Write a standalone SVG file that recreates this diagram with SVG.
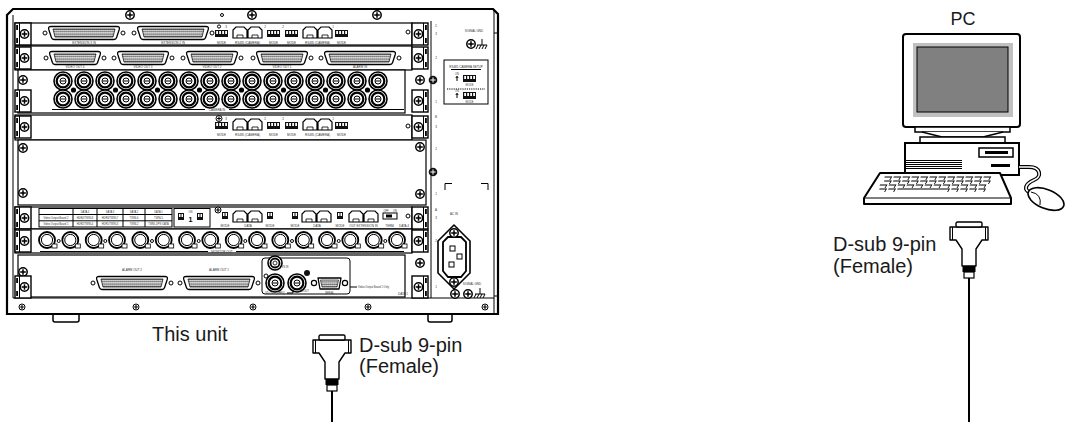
<svg xmlns="http://www.w3.org/2000/svg" width="1065" height="422" viewBox="0 0 1065 422">
<style>
.k{fill:none;stroke:#000;stroke-width:1}
.w{fill:#fff;stroke:#000;stroke-width:1.2}
.tt{font-family:"Liberation Sans",Arial,sans-serif;font-size:3px;fill:#333;text-anchor:middle}
.ts{font-family:"Liberation Sans",Arial,sans-serif;font-size:2.6px;fill:#333;text-anchor:middle}
.lb{font-family:"Liberation Sans",Arial,Helvetica,sans-serif;font-size:20px;fill:#1a1a1a}
.cable{fill:none;stroke:#000;stroke-width:2}
</style>
<defs>
<pattern id="pins" width="2" height="2.4" patternUnits="userSpaceOnUse"><rect width="2" height="2.4" fill="#fff"/><rect x="0.3" y="0.4" width="1.3" height="1.4" fill="#222"/></pattern>
<g id="sc"><circle r="3" fill="#fff" stroke="#000" stroke-width="1"/><path d="M-1.9,0H1.9M0,-1.9V1.9" stroke="#000" stroke-width="1.1"/></g>
<g id="scb"><circle r="4.2" fill="#fff" stroke="#000" stroke-width="1.5"/><path d="M-2.8,0H2.8M0,-2.8V2.8" stroke="#000" stroke-width="1.5"/></g>
<g id="sck"><circle r="4.3" fill="#111"/><path d="M-2.6,0H2.6M0,-2.6V2.6" stroke="#fff" stroke-width="1"/></g>
<g id="dsL"><circle cx="-39" r="2" fill="#fff" stroke="#000"/><circle cx="39" r="2" fill="#fff" stroke="#000"/><path d="M-33,-6.5H33Q36,-6.5 35.3,-3.8L32.6,4.5Q32,6.5 30,6.5H-30Q-32,6.5 -32.6,4.5L-35.3,-3.8Q-36,-6.5 -33,-6.5Z" fill="#fff" stroke="#000" stroke-width="1.3"/><path d="M-31,-4H31L29,4H-29Z" fill="url(#pins)" stroke="#000" stroke-width=".7"/></g>
<g id="dsM"><circle cx="-29" r="2" fill="#fff" stroke="#000"/><circle cx="29" r="2" fill="#fff" stroke="#000"/><path d="M-23,-6.5H23Q26,-6.5 25.3,-3.8L22.6,4.5Q22,6.5 20,6.5H-20Q-22,6.5 -22.6,4.5L-25.3,-3.8Q-26,-6.5 -23,-6.5Z" fill="#fff" stroke="#000" stroke-width="1.3"/><path d="M-21,-4H21L19,4H-19Z" fill="url(#pins)" stroke="#000" stroke-width=".7"/></g>
<g id="dip"><rect width="13" height="7" fill="#111"/><rect x="1.2" y="1" width="1.8" height="3" fill="#fff"/><rect x="4.2" y="1" width="1.8" height="3" fill="#fff"/><rect x="7.2" y="1" width="1.8" height="3" fill="#fff"/><rect x="10.2" y="1" width="1.8" height="3" fill="#fff"/></g>
<g id="dip2"><rect width="6" height="7" fill="#111"/><rect x="1" y="1" width="1.5" height="3" fill="#fff"/><rect x="3.5" y="1" width="1.5" height="3" fill="#fff"/></g>
<g id="rj"><path d="M0,12V4L3,1H11L14,4V12Z M15,12V4L18,1H26L29,4V12Z" fill="#fff" stroke="#000" stroke-width="1.2"/><path d="M4,12V9H10V12M19,12V9H25V12" fill="none" stroke="#000" stroke-width=".8"/></g>
<g id="cb"><circle r="9" fill="#fff" stroke="#000" stroke-width="1.6"/><circle r="6.3" fill="none" stroke="#000" stroke-width="2.2"/><circle r="3" fill="#fff" stroke="#000" stroke-width="1"/><path d="M-2.4,0H2.4" stroke="#000" stroke-width="1"/></g>
<g id="mb"><circle r="8" fill="#fff" stroke="#000" stroke-width="1.8"/><circle r="5.6" fill="none" stroke="#000" stroke-width="1"/><rect x="5" y="4" width="5" height="4" fill="#fff" stroke="#000" stroke-width=".8"/></g>
<g id="lbk"><rect x="-8" y="-11" width="16" height="22" fill="#fff" stroke="#000" stroke-width="1.4"/><path d="M-3.5,-11V11" stroke="#000" stroke-width="1"/><rect x="-6.8" y="-9" width="1.8" height="5" fill="#000"/><rect x="-6.8" y="4" width="1.8" height="5" fill="#000"/><use href="#scb" x="1.5"/></g>
<g id="plug"><path d="M-19,5H19V18H13L7,27V44H-7V27L-13,18H-19Z" fill="#fff" stroke="#000" stroke-width="1.4" stroke-linejoin="round"/><rect x="-13" y="0" width="26" height="5" rx="1.5" fill="#fff" stroke="#000" stroke-width="1.4"/><path d="M-16.5,5V18M16.5,5V18" stroke="#000" stroke-width="1"/><rect x="-6.5" y="44" width="13" height="6" fill="#000"/><rect x="-5" y="50" width="10" height="6" fill="#fff" stroke="#000" stroke-width="1.2"/></g>
<g id="gnd"><path d="M0,-6V0M-5,0H5M-4,0L-6,4M-1,0L-3,4M2,0L0,4M5,0L3,4" stroke="#000" stroke-width="1" fill="none"/></g>
</defs>

<!-- ===== This unit (rear panel) ===== -->
<g id="unit">
  <path d="M53,314V320Q53,322 55,322H77Q79,322 79,320V314M428,314V320Q428,322 430,322H450Q452,322 452,320V314" fill="#fff" stroke="#000" stroke-width="1.5"/>
  <path d="M7,15L13,9H493L498,14V314H7Z" fill="#fff" stroke="#000" stroke-width="2.2"/>
  <path d="M13,15V298H494M494,9V314M494,33H498M494,296H498" class="k"/>
  <path d="M431,21V298" class="k"/>
  <use href="#scb" x="130" y="15"/><circle cx="222" cy="15" r="1.5" class="k"/><use href="#scb" x="252" y="15"/><use href="#scb" x="377" y="15"/>

  <!-- row 1 -->
  <rect x="15" y="23" width="397" height="22" class="w" stroke-width="1.5"/>
  <use href="#dsL" x="84" y="33"/><use href="#dsL" x="173" y="33"/>
  <text class="tt" x="84" y="43.5">EXTENSION 3 IN</text><text class="tt" x="173" y="43.5">EXTENSION 2 IN</text>
  <circle cx="219" cy="26.5" r="1.6" class="k"/><text class="tt" x="226" y="28">3</text>
  <use href="#dip" x="215" y="30"/><use href="#rj" x="233" y="26"/><use href="#dip" x="267" y="30"/><use href="#dip" x="285" y="30"/><use href="#rj" x="303" y="26"/><use href="#dip" x="335" y="30"/>
  <text class="tt" x="265" y="28">2</text><text class="tt" x="283" y="28">2</text><text class="tt" x="333" y="28">1</text>
  <text class="tt" x="221.5" y="43.5">MODE</text><text class="tt" x="247.5" y="43.5">RS485 (CAMERA)</text><text class="tt" x="273.5" y="43.5">MODE</text><text class="tt" x="291.5" y="43.5">MODE</text><text class="tt" x="317.5" y="43.5">RS485 (CAMERA)</text><text class="tt" x="341.5" y="43.5">MODE</text>
  <circle cx="408" cy="32" r="2" class="k"/>
  <use href="#lbk" x="23" y="34"/><use href="#lbk" transform="translate(420,34) scale(-1,1)"/>

  <!-- row 2 -->
  <rect x="15" y="46" width="397" height="24" class="w" stroke-width="1.5"/>
  <use href="#dsM" x="75" y="58"/><use href="#dsM" x="143" y="58"/><use href="#dsM" x="212" y="58"/><use href="#dsM" x="282" y="58"/><use href="#dsL" x="360" y="58"/>
  <text class="tt" x="75" y="67.5">VIDEO OUT 4</text><text class="tt" x="143" y="67.5">VIDEO OUT 3</text><text class="tt" x="212" y="67.5">VIDEO OUT 2</text><text class="tt" x="282" y="67.5">VIDEO OUT 1</text><text class="tt" x="360" y="67.5">ALARM IN</text>
  <use href="#lbk" x="23" y="58"/><use href="#lbk" transform="translate(420,58) scale(-1,1)"/>

  <!-- row 3 camera in -->
  <rect x="18" y="70" width="387" height="43" class="w" stroke-width="1.5"/>
  <g>
    <use href="#cb" x="63" y="81"/><use href="#cb" x="84" y="81"/><use href="#cb" x="105" y="81"/><use href="#cb" x="126" y="81"/><use href="#cb" x="147" y="81"/><use href="#cb" x="168" y="81"/><use href="#cb" x="189" y="81"/><use href="#cb" x="210" y="81"/><use href="#cb" x="231" y="81"/><use href="#cb" x="252" y="81"/><use href="#cb" x="273" y="81"/><use href="#cb" x="294" y="81"/><use href="#cb" x="315" y="81"/><use href="#cb" x="336" y="81"/><use href="#cb" x="357" y="81"/><use href="#cb" x="378" y="81"/>
    <use href="#cb" x="63" y="99"/><use href="#cb" x="84" y="99"/><use href="#cb" x="105" y="99"/><use href="#cb" x="126" y="99"/><use href="#cb" x="147" y="99"/><use href="#cb" x="168" y="99"/><use href="#cb" x="189" y="99"/><use href="#cb" x="210" y="99"/><use href="#cb" x="231" y="99"/><use href="#cb" x="252" y="99"/><use href="#cb" x="273" y="99"/><use href="#cb" x="294" y="99"/><use href="#cb" x="315" y="99"/><use href="#cb" x="336" y="99"/><use href="#cb" x="357" y="99"/><use href="#cb" x="378" y="99"/>
    <circle cx="73.5" cy="90" r="2.6"/><circle cx="115.5" cy="90" r="2.6"/><circle cx="157.5" cy="90" r="2.6"/><circle cx="199.5" cy="90" r="2.6"/><circle cx="241.5" cy="90" r="2.6"/><circle cx="283.5" cy="90" r="2.6"/><circle cx="325.5" cy="90" r="2.6"/><circle cx="367.5" cy="90" r="2.6"/>
  </g>
  <path d="M52,109.5H205M229,109.5H404" class="k" stroke-width=".8"/><text class="tt" x="217" y="110.5">CAMERA IN</text>
  <use href="#scb" x="23" y="80"/><use href="#lbk" x="23" y="101"/>
  <use href="#scb" x="420" y="80"/><use href="#lbk" transform="translate(420,101) scale(-1,1)"/>
  <use href="#sck" x="433" y="80"/>

  <!-- row 4 -->
  <rect x="15" y="115" width="397" height="25" class="w" stroke-width="1.5"/>
  <use href="#sc" x="219" y="118.5"/><text class="tt" x="226" y="120">3</text>
  <use href="#dip" x="215" y="122"/><use href="#rj" x="233" y="118"/><use href="#dip" x="267" y="122"/><use href="#dip" x="285" y="122"/><use href="#rj" x="303" y="118"/><use href="#dip" x="335" y="122"/>
  <text class="tt" x="265" y="120">2</text><text class="tt" x="283" y="120">2</text><text class="tt" x="333" y="120">1</text>
  <text class="tt" x="221.5" y="136">MODE</text><text class="tt" x="247.5" y="136">RS485 (CAMERA)</text><text class="tt" x="273.5" y="136">MODE</text><text class="tt" x="291.5" y="136">MODE</text><text class="tt" x="317.5" y="136">RS485 (CAMERA)</text><text class="tt" x="341.5" y="136">MODE</text>
  <circle cx="408" cy="126" r="2" class="k"/>
  <use href="#lbk" x="23" y="127"/><use href="#lbk" transform="translate(420,127) scale(-1,1)"/>

  <!-- blank panel -->
  <rect x="18" y="140" width="408" height="65" class="w" stroke-width="1.5"/>
  <use href="#scb" x="23" y="148"/><use href="#scb" x="23" y="193"/><use href="#scb" x="420" y="147"/><use href="#scb" x="420" y="194"/>
  <use href="#sck" x="433" y="172"/>

  <!-- row 5 data -->
  <rect x="15" y="207" width="397" height="22" class="w" stroke-width="1.5"/>
  <g>
    <rect x="39" y="208.5" width="133" height="18.5" class="k" stroke-width=".8"/>
    <path d="M73,208.5V227M97,208.5V227M123,208.5V227M145,208.5V227M39,214.5H172M39,220.8H172" class="k" stroke-width=".7"/>
    <text class="ts" x="85" y="213">DATA 4</text><text class="ts" x="110" y="213">DATA 3</text><text class="ts" x="134" y="213">DATA 2</text><text class="ts" x="158.5" y="213">DATA 1</text>
    <text class="ts" x="56" y="219">Video Output Board 2</text><text class="ts" x="85" y="219">HDR4/TWNL8</text><text class="ts" x="110" y="219">HDR3/TWNL7</text><text class="ts" x="134" y="219">TWNL6</text><text class="ts" x="158.5" y="219">TWNL5</text>
    <text class="ts" x="56" y="225.3">Video Output Board 1</text><text class="ts" x="85" y="225.3">HDR2/TWNL4</text><text class="ts" x="110" y="225.3">HDR1/TWNL3</text><text class="ts" x="134" y="225.3">TWNL2</text><text class="ts" x="158.5" y="225.3">TWNL1/PS·DATA</text>
  </g>
  <rect x="174" y="208.5" width="36" height="18.5" class="k" stroke-width=".8"/>
  <use href="#dip2" x="178" y="213"/><use href="#dip2" x="197" y="213"/>
  <text x="190.5" y="222" font-family="Liberation Sans, Arial, sans-serif" font-size="7" font-weight="bold" text-anchor="middle">1</text>
  <text class="ts" x="190.5" y="213">ON</text>
  <use href="#sc" x="218" y="210"/>
  <use href="#dip2" x="222" y="212"/><use href="#rj" x="233" y="210"/><use href="#dip2" x="267" y="212"/><use href="#dip2" x="292" y="212"/><use href="#rj" x="302" y="210"/><use href="#dip2" x="337" y="212"/><use href="#rj" x="349" y="210"/>
  <rect x="383" y="213" width="14" height="6" class="k" stroke-width=".9"/><rect x="386" y="214.5" width="6" height="3" fill="#000"/>
  <text class="ts" x="386" y="211.5">OFF</text><text class="ts" x="395" y="211.5">ON</text>
  <circle cx="408" cy="216" r="2" class="k"/>
  <text class="tt" x="225" y="226.5">MODE</text><text class="tt" x="248" y="226.5">DATA</text><text class="tt" x="270" y="226.5">MODE</text><text class="tt" x="295" y="226.5">MODE</text><text class="tt" x="317" y="226.5">DATA</text><text class="tt" x="340" y="226.5">MODE</text><text class="tt" x="363.5" y="226.5">OUT  EXTENSION  IN</text><text class="tt" x="390" y="226.5">TERM.</text><text class="tt" x="404" y="226.5">DATA 4</text>
  <use href="#lbk" x="23" y="218"/><use href="#lbk" transform="translate(420,218) scale(-1,1)"/>

  <!-- row 6 monitor out -->
  <rect x="15" y="229" width="397" height="24" class="w" stroke-width="1.5"/>
  <g>
    <use href="#mb" x="47" y="240"/><use href="#mb" x="70.3" y="240"/><use href="#mb" x="93.7" y="240"/><use href="#mb" x="117" y="240"/><use href="#mb" x="140.3" y="240"/><use href="#mb" x="163.7" y="240"/><use href="#mb" x="187" y="240"/><use href="#mb" x="210.3" y="240"/><use href="#mb" x="233.7" y="240"/><use href="#mb" x="257" y="240"/><use href="#mb" x="280.3" y="240"/><use href="#mb" x="303.7" y="240"/><use href="#mb" x="327" y="240"/><use href="#mb" x="350.3" y="240"/><use href="#mb" x="373.7" y="240"/><use href="#mb" x="397" y="240"/>
    <circle cx="58.7" cy="241" r="1.5" class="k"/><circle cx="105.3" cy="241" r="1.5" class="k"/><circle cx="152" cy="241" r="1.5" class="k"/><circle cx="198.7" cy="241" r="1.5" class="k"/><circle cx="245.3" cy="241" r="1.5" class="k"/><circle cx="292" cy="241" r="1.5" class="k"/><circle cx="338.7" cy="241" r="1.5" class="k"/><circle cx="385.3" cy="241" r="1.5" class="k"/>
  </g>
  <path d="M40,251.5H208M236,251.5H404" class="k" stroke-width=".8"/><text class="tt" x="222" y="252.5">MONITOR OUT</text>
  <use href="#lbk" x="23" y="241"/><use href="#lbk" transform="translate(420,241) scale(-1,1)"/>

  <!-- row 7 alarm out / serial -->
  <rect x="18" y="255" width="387" height="42" class="w" stroke-width="1.5"/>
  <use href="#dsL" x="132" y="283"/><use href="#dsL" x="219" y="283"/>
  <text class="tt" x="132" y="271">ALARM OUT 2</text><text class="tt" x="219" y="271">ALARM OUT 1</text>
  <rect x="262" y="258" width="88" height="36" rx="3" class="k" stroke-width="1.1"/>
  <g>
    <circle cx="275" cy="263" r="7" fill="#fff" stroke="#000" stroke-width="1.6"/><circle cx="275" cy="263" r="4.5" fill="none" stroke="#000" stroke-width="1.8"/><circle cx="275" cy="263" r="2" fill="#fff" stroke="#000" stroke-width=".8"/>
    <use href="#cb" x="275" y="283"/><use href="#cb" x="297" y="283"/>
    <circle cx="307" cy="273" r="3" fill="#111"/>
    <circle cx="266" cy="276" r="2" class="k"/>
    <circle cx="314" cy="283" r="2.6" fill="#fff" stroke="#000" stroke-width="1.2"/><circle cx="345" cy="283" r="2.6" fill="#fff" stroke="#000" stroke-width="1.2"/>
    <path d="M318,278H341L339,289H320Z" fill="#fff" stroke="#000" stroke-width="1.3" stroke-linejoin="round"/>
    <path d="M320.5,280H338.5L337,287H322Z" fill="url(#pins)" stroke="#000" stroke-width=".6"/>
    <path d="M287,293H293V290" class="k" stroke-width=".7"/>
    <text class="ts" x="285" y="268">VS IN</text><text class="ts" x="275" y="293.5">VD OUT (THRU)</text><text class="ts" x="304" y="292">VS OUT</text><text class="ts" x="329.5" y="293.5">SERIAL</text>
    <path d="M350,287H357" class="k" stroke-width=".7"/><text class="ts" x="358" y="288" style="text-anchor:start">Video Output Board 1 Only</text>
  </g>
  <text class="tt" x="403" y="295">DATA 1</text>
  <use href="#scb" x="23" y="272"/><use href="#lbk" x="23" y="287"/>
  <use href="#scb" x="420" y="263"/><use href="#lbk" transform="translate(420,287) scale(-1,1)"/>

  <!-- rail labels -->
  <g class="tt">
    <text x="436" y="27">C</text><text x="436" y="35">3</text><text x="436" y="59">2</text><text x="436" y="103">1</text><text x="436" y="118">B</text><text x="436" y="128">3</text><text x="436" y="150">2</text><text x="436" y="195">1</text><text x="436" y="211">A</text><text x="436" y="219">3</text><text x="436" y="242">2</text><text x="436" y="288">1</text>
  </g>

  <!-- right panel -->
  <text class="tt" x="474" y="32">SIGNAL GND</text>
  <use href="#scb" x="471" y="44"/><use href="#gnd" x="482" y="45"/>
  <rect x="444" y="60" width="44" height="44" class="k" stroke-width="1.2"/>
  <text class="tt" x="466" y="68">RS485 CAMERA SETUP</text><path d="M451,69.5H481" class="k" stroke-width=".5"/>
  <use href="#dip" x="463" y="75"/><text class="ts" x="457" y="75">ON</text><path d="M457,81V76.5M455.8,78L457,76.3L458.2,78" class="k" stroke-width=".8"/>
  <text class="ts" x="469.5" y="86">MODE</text>
  <path d="M447,89H485" class="k" stroke-width=".8" stroke-dasharray="1.2,1"/>
  <use href="#dip" x="463" y="92"/><text class="ts" x="457" y="92">ON</text><path d="M457,98V93.5M455.8,95L457,93.3L458.2,95" class="k" stroke-width=".8"/>
  <text class="ts" x="469.5" y="103">MODE</text>
  <path d="M445,190V183.5H452M481,183.5H488V190" class="k" stroke-width="1.3"/>
  <text class="tt" x="454" y="215">AC IN</text>
  <path d="M454,225L470,241V273L454,289L438,273V241Z" fill="#fff" stroke="#000" stroke-width="1.6" stroke-linejoin="round"/>
  <path d="M448,237H461L466,242V271L461,277H448L443,271V242Z" fill="#fff" stroke="#000" stroke-width="1.8"/>
  <rect x="450" y="246" width="5" height="5" class="k" stroke-width="1.2"/><rect x="457" y="254" width="5" height="5" class="k" stroke-width="1.2"/><rect x="449" y="262" width="5" height="5" class="k" stroke-width="1.2"/>
  <use href="#scb" x="454" y="233"/><use href="#scb" x="454" y="282"/>
  <text class="tt" x="472" y="285">SIGNAL GND</text>
  <use href="#scb" x="455" y="294"/><use href="#scb" x="468" y="294"/><use href="#gnd" x="480" y="294"/>

  <!-- bottom strip screws -->
  <use href="#sc" x="22" y="307"/><use href="#sc" x="136" y="307"/><use href="#sc" x="253" y="307"/><use href="#sc" x="368" y="307"/><use href="#sc" x="485" y="307"/>
</g>
<text class="lb" x="152" y="341">This unit</text>

<!-- ===== PC ===== -->
<g id="pc">
  <text x="963" y="25" font-family="Liberation Sans, Arial, Helvetica, sans-serif" font-size="18" fill="#1a1a1a" text-anchor="middle">PC</text>
  <rect x="903" y="34" width="117" height="93" rx="3" fill="#fff" stroke="#000" stroke-width="2"/>
  <rect x="913" y="43" width="100" height="74" fill="#c0c0c0"/>
  <rect x="917" y="47" width="91" height="65" fill="#808080" stroke="#000" stroke-width="1"/>
  <rect x="915" y="127" width="95" height="5" fill="#fff" stroke="#000" stroke-width="1.5"/>
  <path d="M922,132L942,137H983L1003,132" fill="#fff" stroke="#000" stroke-width="1.5"/>
  <rect x="920" y="137" width="85" height="6" fill="#fff" stroke="#000" stroke-width="1.5"/>
  <rect x="905" y="143" width="114" height="32" fill="#fff" stroke="#000" stroke-width="2"/>
  <rect x="979" y="148" width="34" height="9" fill="#fff" stroke="#000" stroke-width="1.5"/>
  <rect x="985" y="151" width="23" height="3" fill="#000"/>
  <rect x="991" y="164" width="19" height="3" fill="#000"/>
  <path d="M906,160.5H962M906,162.5H962M906,164.5H962M906,166.5H962M906,168.5H962" class="k" stroke-width=".9"/>
  <path d="M1019,167H1029C1041,167 1042,177 1034,180C1025,184 1023,190 1031,193" fill="none" stroke="#000" stroke-width="4"/>
  <path d="M1019,167H1029C1041,167 1042,177 1034,180C1025,184 1023,190 1031,193" fill="none" stroke="#fff" stroke-width="1.6"/>
  <ellipse cx="1046" cy="199" rx="19" ry="9.5" transform="rotate(22 1046 199)" fill="#fff" stroke="#000" stroke-width="1.6"/>
  <path d="M1031,192Q1042,194 1040,205" class="k"/>
  <path d="M880,173H1000L1011,198V204H864V198Z" fill="#fff" stroke="#000" stroke-width="2" stroke-linejoin="round"/>
  <path d="M864,198H1011" class="k" stroke-width="1.2"/>
  <g transform="translate(0,173) skewX(-31) translate(0,-173)" fill="none" stroke="#000" stroke-width=".9">
    <path d="M887,177h7v3M896,177h7v3M905,177h7v3M914,177h7v3M923,177h7v3M932,177h7v3M941,177h7v3M950,177h7v3M959,177h7v3M968,177h7v3M977,177h7v3M986,177h7v3"/>
    <path d="M889,181h7v3M898,181h7v3M907,181h7v3M916,181h7v3M925,181h7v3M934,181h7v3M943,181h7v3M952,181h7v3M961,181h7v3M970,181h7v3M979,181h7v3M988,181h7v3"/>
    <path d="M887,185h7v3M896,185h7v3M905,185h7v3M914,185h7v3M923,185h7v3M932,185h7v3M941,185h7v3M950,185h7v3M959,185h7v3M968,185h7v3M977,185h7v3M986,185h7v3"/>
    <path d="M889,189h7v3M898,189h7v3M907,189h52v3M961,189h7v3M970,189h7v3M979,189h7v3M988,189h7v3"/>
  </g>
</g>

<!-- ===== connectors / cable ends ===== -->
<g id="connectors">
  <use href="#plug" x="332" y="335"/>
  <line x1="332" y1="391" x2="332" y2="422" class="cable"/>
  <use href="#plug" x="969" y="222"/>
  <line x1="969" y1="278" x2="969" y2="422" class="cable"/>
</g>
<g id="labels">
  <text class="lb" x="359" y="352">D-sub 9-pin</text>
  <text class="lb" x="359" y="373">(Female)</text>
  <text class="lb" x="833" y="251">D-sub 9-pin</text>
  <text class="lb" x="833" y="273">(Female)</text>
</g>
</svg>
